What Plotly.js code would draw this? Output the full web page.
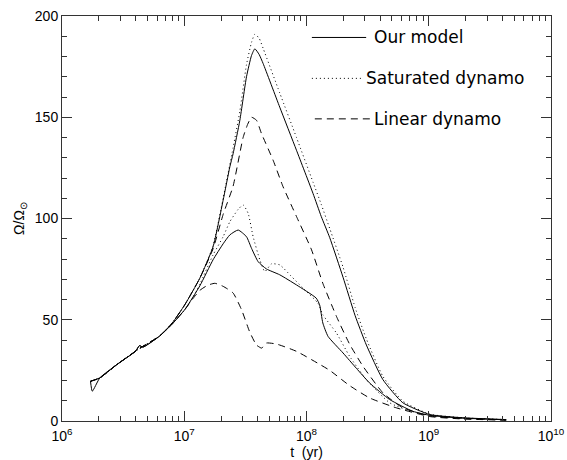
<!DOCTYPE html>
<html>
<head>
<meta charset="utf-8">
<script src="https://cdn.plot.ly/plotly-3.0.1.min.js"></script>
<style>
  html, body { margin: 0; padding: 0; background: #fff; }
  #chart { width: 567px; height: 460px; }
</style>
</head>
<body>
<div id="chart"></div>
<script>
// ---------- data ----------
const seriesNames = ['Our model', 'Saturated dynamo', 'Linear dynamo'];

// Our model, upper branch
const tOurUpper = [1.71e6, 2.04e6, 2.8e6, 4.0e6, 4.3e6, 4.6e6, 6.3e6, 8.0e6, 1.01e7, 1.34e7, 1.72e7, 2.08e7, 2.36e7, 2.51e7, 2.85e7, 3.23e7, 3.55e7, 3.78e7, 4.1e7, 4.42e7, 6.04e7, 8.28e7, 1.13e8, 1.32e8, 1.55e8, 1.99e8, 2.5e8, 3.09e8, 4.22e8, 6.14e8, 1.02e9, 1.9e9, 4.3e9];
const vOurUpper = [19.6, 21.3, 27.8, 34.5, 37.2, 36.5, 42, 48.5, 57.4, 70.5, 86, 109, 125.5, 132, 148.5, 170, 180.5, 183.8, 181, 176.5, 155, 133.7, 112.4, 101, 90.5, 71, 52, 37.5, 20.4, 9, 3.2, 1.6, 0.7];

// Our model, lower branch
const tOurLower = [1.71e6, 1.77e6, 2.04e6, 2.8e6, 4.0e6, 4.3e6, 4.6e6, 6.3e6, 8.0e6, 1.01e7, 1.34e7, 1.72e7, 2.08e7, 2.36e7, 2.76e7, 3.23e7, 3.55e7, 4.02e7, 4.7e7, 6.04e7, 8.28e7, 1.2e8, 1.28e8, 1.36e8, 1.5e8, 1.99e8, 2.56e8, 3.28e8, 4.79e8, 7.41e8, 1.02e9, 1.9e9, 4.3e9];
const vOurLower = [19.6, 14.7, 21.3, 27.8, 34.5, 37.2, 36.5, 42, 48, 55, 66.7, 79.6, 87.5, 91.9, 94.3, 91, 85.3, 78.7, 75.1, 72.2, 67.2, 60.7, 57.4, 48.4, 41.8, 33.6, 26, 18.8, 10.6, 4.8, 2.8, 1.4, 0.6];

// Saturated dynamo, upper branch
const tSatUpper = [1.71e6, 2.04e6, 2.8e6, 4.3e6, 6.3e6, 8.0e6, 1.01e7, 1.34e7, 1.72e7, 2.08e7, 2.51e7, 2.85e7, 3.23e7, 3.55e7, 3.78e7, 4.1e7, 4.42e7, 6.04e7, 8.28e7, 1.13e8, 1.32e8, 1.55e8, 1.99e8, 2.5e8, 3.09e8, 4.22e8, 6.14e8, 1.02e9, 1.9e9, 4.3e9];
const vSatUpper = [19.6, 21.3, 27.8, 35.8, 42, 48.5, 57.4, 70.5, 86.5, 110, 135, 153, 176, 187, 191, 189, 184, 162, 140, 118, 107, 95, 76, 56, 40.5, 22, 9.8, 3.4, 1.6, 0.7];

// Saturated dynamo, lower branch
const tSatLower = [1.71e6, 2.04e6, 2.8e6, 4.3e6, 6.3e6, 8.0e6, 1.01e7, 1.18e7, 1.34e7, 1.72e7, 2.08e7, 2.36e7, 2.76e7, 3.03e7, 3.33e7, 3.66e7, 4.15e7, 4.56e7, 5.17e7, 6.04e7, 7.5e7, 9.36e7, 1.24e8, 1.36e8, 1.76e8, 2.25e8, 3.09e8, 4.79e8, 7.41e8, 1.02e9, 1.9e9, 4.3e9];
const vSatLower = [19.6, 21.3, 27.8, 35.8, 42, 48, 55, 61, 67.5, 82, 91, 98.4, 104.5, 106.7, 102.6, 91, 79.6, 73.8, 77.6, 77.1, 71.5, 65.6, 58.2, 52.5, 43.4, 32, 20.4, 9, 4.5, 2.8, 1.4, 0.6];

// Linear dynamo, upper branch
const tLinUpper = [1.71e6, 2.04e6, 2.8e6, 4.3e6, 6.3e6, 8.0e6, 1.01e7, 1.34e7, 1.72e7, 2.08e7, 2.51e7, 3.03e7, 3.3e7, 3.55e7, 3.9e7, 4.28e7, 5.33e7, 6.43e7, 8.28e7, 1.1e8, 1.36e8, 1.76e8, 2.25e8, 2.9e8, 4.22e8, 6.14e8, 1.02e9, 1.9e9, 4.3e9];
const vLinUpper = [19.6, 21.3, 27.8, 35.8, 42, 48.5, 57.4, 70.5, 85, 102, 116, 140, 146.5, 150, 148.5, 142, 128.8, 115.7, 101, 84.5, 68, 51.6, 38, 27, 13.9, 6.5, 2.5, 1.2, 0.5];

// Linear dynamo, lower branch
const tLinLower = [1.71e6, 2.04e6, 2.8e6, 4.3e6, 6.3e6, 8.0e6, 1.01e7, 1.18e7, 1.34e7, 1.55e7, 1.78e7, 2.08e7, 2.51e7, 2.94e7, 3.43e7, 3.9e7, 4.28e7, 4.4e7, 4.7e7, 5.68e7, 8.28e7, 1.28e8, 1.55e8, 2.25e8, 3.28e8, 5.43e8, 1.02e9, 1.9e9, 4.3e9];
const vLinLower = [19.6, 21.3, 27.8, 35.8, 42, 48, 55, 60.5, 64.5, 67, 68, 66.5, 63.2, 55, 44, 37.5, 36, 36.5, 38.5, 38, 34.4, 28, 25, 17.5, 11.4, 6.5, 2.2, 1, 0.4];

const xTickExps = [6, 7, 8, 9, 10];
const yTickVals = [0, 50, 100, 150, 200];

// ---------- styles ----------
const dashStyles = ['solid', '1px,3px', '7px,5px'];
const lineCol = '#000';
const axisCol = '#333';
const fontFam = 'Liberation Sans, Arial, sans-serif';
const legFont = 'DejaVu Sans, sans-serif';

function tr(t, v, k) {
  return {
    x: t, y: v, type: 'scatter', mode: 'lines', name: seriesNames[k],
    line: { color: lineCol, width: 1, dash: dashStyles[k], shape: 'spline', smoothing: 0.5 },
    showlegend: false, hoverinfo: 'skip'
  };
}

const data = [
  tr(tLinUpper, vLinUpper, 2),
  tr(tLinLower, vLinLower, 2),
  tr(tSatUpper, vSatUpper, 1),
  tr(tSatLower, vSatLower, 1),
  tr(tOurUpper, vOurUpper, 0),
  tr(tOurLower, vOurLower, 0)
];

// legend drawn as shapes + annotations (paper coordinates)
const legRows = [
  { y: 0.947, x0: 0.511, x1: 0.622, tx: 0.634 },
  { y: 0.846, x0: 0.511, x1: 0.613, tx: 0.618 },
  { y: 0.746, x0: 0.517, x1: 0.630, tx: 0.634 }
];
const shapes = legRows.map((r, k) => ({
  type: 'line', xref: 'paper', yref: 'paper', x0: r.x0, x1: r.x1, y0: r.y, y1: r.y,
  line: { color: lineCol, width: 1, dash: dashStyles[k] }
}));
const annotations = legRows.map((r, k) => ({
  xref: 'paper', yref: 'paper', x: r.tx, y: r.y, xanchor: 'left', yanchor: 'middle',
  text: seriesNames[k], showarrow: false, font: { family: legFont, size: 17, color: '#000' }
}));

const layout = {
  width: 567, height: 460,
  margin: { l: 62, r: 16, t: 16, b: 39 },
  paper_bgcolor: '#fff', plot_bgcolor: '#fff',
  font: { family: fontFam, size: 14, color: '#000' },
  xaxis: {
    type: 'log', range: [6, 10],
    tickvals: xTickExps.map(e => Math.pow(10, e)),
    ticktext: xTickExps.map(e => '10<sup>' + e + '</sup>'),
    ticks: 'inside', ticklen: 10, tickcolor: axisCol, tickwidth: 1,
    ticklabelstandoff: 2,
    minor: { ticks: 'inside', ticklen: 5, tickcolor: axisCol, dtick: 'D1', showgrid: false },
    showline: true, linecolor: axisCol, linewidth: 1, mirror: 'allticks',
    showgrid: false, zeroline: false,
    tickfont: { family: fontFam, size: 14 },
    title: { text: 't  (yr)', font: { family: fontFam, size: 14 }, standoff: 2 }
  },
  yaxis: {
    range: [0, 200], tickvals: yTickVals,
    ticks: 'inside', ticklen: 10, tickcolor: axisCol, tickwidth: 1,
    minor: { ticks: 'inside', ticklen: 5, tickcolor: axisCol, dtick: 10, showgrid: false },
    showline: true, linecolor: axisCol, linewidth: 1, mirror: 'allticks',
    showgrid: false, zeroline: false,
    tickfont: { family: fontFam, size: 14 },
    title: { text: 'Ω/Ω<sub>⊙</sub>', font: { family: fontFam, size: 14 }, standoff: 6 }
  },
  shapes: shapes,
  annotations: annotations
};

Plotly.newPlot('chart', data, layout, { staticPlot: true, displayModeBar: false });
</script>
</body>
</html>
